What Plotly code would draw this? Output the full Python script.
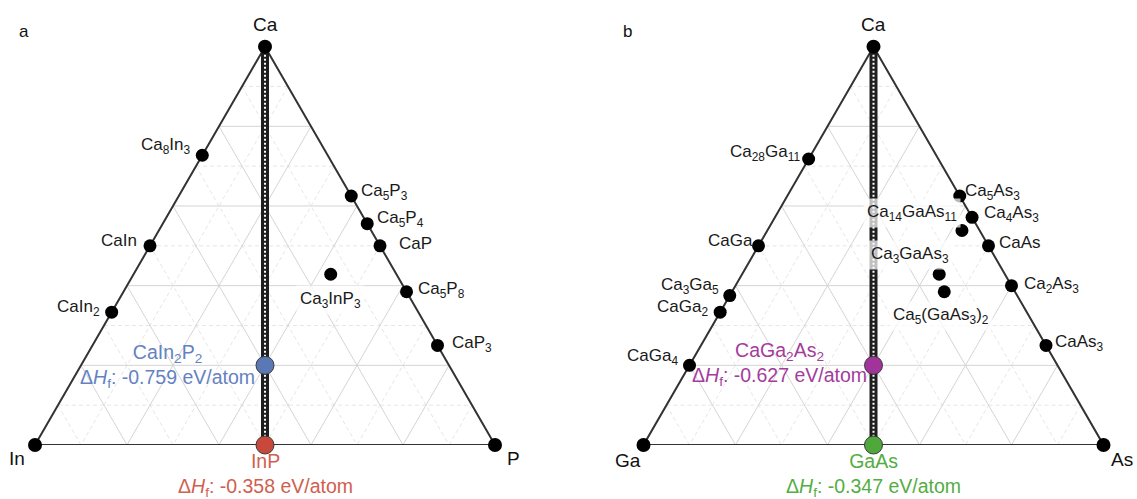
import numpy as np
import plotly.graph_objects as go

SQ3 = np.sqrt(3.0)
W, H = 1137, 499
FONT = "Liberation Sans, Arial, sans-serif"

# ---------------- data: panel a (Ca-In-P) ----------------
A_VERTS = ["Ca", "In", "P"]
A_NAMES = ["Ca<sub>8</sub>In<sub>3</sub>", "CaIn", "CaIn<sub>2</sub>",
           "Ca<sub>5</sub>P<sub>3</sub>", "Ca<sub>5</sub>P<sub>4</sub>", "CaP",
           "Ca<sub>5</sub>P<sub>8</sub>", "CaP<sub>3</sub>", "Ca<sub>3</sub>InP<sub>3</sub>"]
A_CA = [8, 1, 1, 5, 5, 1, 5, 1, 3]
A_X = [3, 1, 2, 0, 0, 0, 0, 0, 1]     # In
A_Y = [0, 0, 0, 3, 4, 1, 8, 3, 3]     # P
A_HI_NAMES = ["CaIn<sub>2</sub>P<sub>2</sub>", "InP"]
A_HI_CA = [1, 0]
A_HI_X = [2, 1]
A_HI_Y = [2, 1]
A_HI_DH = [-0.759, -0.358]

# ---------------- data: panel b (Ca-Ga-As) ----------------
B_VERTS = ["Ca", "Ga", "As"]
B_NAMES = ["Ca<sub>28</sub>Ga<sub>11</sub>", "CaGa", "Ca<sub>3</sub>Ga<sub>5</sub>",
           "CaGa<sub>2</sub>", "CaGa<sub>4</sub>",
           "Ca<sub>5</sub>As<sub>3</sub>", "Ca<sub>4</sub>As<sub>3</sub>", "CaAs",
           "Ca<sub>2</sub>As<sub>3</sub>", "CaAs<sub>3</sub>",
           "Ca<sub>14</sub>GaAs<sub>11</sub>", "Ca<sub>3</sub>GaAs<sub>3</sub>",
           "Ca<sub>5</sub>(GaAs<sub>3</sub>)<sub>2</sub>"]
B_CA = [28, 1, 3, 1, 1, 5, 4, 1, 2, 1, 14, 3, 5]
B_X = [11, 1, 5, 2, 4, 0, 0, 0, 0, 0, 1, 1, 2]   # Ga
B_Y = [0, 0, 0, 0, 0, 3, 3, 1, 3, 3, 11, 3, 6]   # As
B_HI_NAMES = ["CaGa<sub>2</sub>As<sub>2</sub>", "GaAs"]
B_HI_CA = [1, 0]
B_HI_X = [2, 1]
B_HI_Y = [2, 1]
B_HI_DH = [-0.627, -0.347]

# ---------------- label placement (pixel offsets from the point) ----------------
A_VERT_OFF = [(0, -22), (-18, 14), (18, 14)]
B_VERT_OFF = [(0, -22), (-16, 16), (18, 15)]
A_LBL_OFF = [(-36, -9), (-31, -5), (-33, -4), (33, -4), (33, -5), (35, -2),
             (35, -2), (34, -1), (0, 26)]
A_LBL_BOX = [False] * 8 + [True]
B_LBL_OFF = [(-44, -6), (-28, -5), (-40, -10), (-38, -4), (-37, -8),
             (33, -4), (39, -3), (31, -3), (40, -1), (33, -2),
             (-50, -17), (-29, -19), (-3, 24)]
B_LBL_BOX = [False] * 10 + [True, True, True]
A_HI_OFF = [(-98, 1), (0, 30)]
B_HI_OFF = [(-94, -1), (0, 30)]
A_HI_COLORS = ["#5b78b6", "#c8493b"]
A_HI_TEXT = ["#6482c2", "#d0604f"]
B_HI_COLORS = ["#a2339a", "#4ea83a"]
B_HI_TEXT = ["#a43c9c", "#54ad43"]

SIDE = 460.0


def to_xy(ca, b, c):
    """ternary (top=Ca, left=b, right=c) -> cartesian in side-length units"""
    ca, b, c = (np.asarray(v, dtype=float) for v in (ca, b, c))
    s = ca + b + c
    a_, c_ = ca / s, c / s
    return c_ + a_ / 2, a_ * SQ3 / 2


def add_panel(fig, k, verts, vert_off, names, ca, xb, yc, lbl_off, lbl_box,
              hi_names, hi_ca, hi_x, hi_y, hi_dh, hi_off, hi_col, hi_txt):
    xr, yr = ("x", "y") if k == 1 else ("x2", "y2")
    kw = dict(xaxis=xr, yaxis=yr, hoverinfo="skip")
    # grid lines
    for dashed in (True, False):
        gx, gy = [], []
        for i in range(1, 10):
            if (i % 2 == 1) != dashed:
                continue
            t = i / 10
            for p, q in [((t, 1 - t, 0), (t, 0, 1 - t)),
                         ((1 - t, t, 0), (0, t, 1 - t)),
                         ((1 - t, 0, t), (0, 1 - t, t))]:
                x0, y0 = to_xy(*p)
                x1, y1 = to_xy(*q)
                gx += [float(x0), float(x1), None]
                gy += [float(y0), float(y1), None]
        fig.add_trace(go.Scatter(
            x=gx, y=gy, mode="lines", **kw,
            line=dict(color="#e6e6e6" if dashed else "#d4d4d4", width=1,
                      dash="4px,3px" if dashed else "solid")))
    # triangle edges
    ex, ey = to_xy([1, 0, 0, 1], [0, 1, 0, 0], [0, 0, 1, 0])
    fig.add_trace(go.Scatter(x=ex, y=ey, mode="lines", **kw,
                             line=dict(color="#333333", width=2)))
    # thick join line Ca - (1:1 compound)
    jx, jy = to_xy([1, 0], [0, 1], [0, 1])
    fig.add_trace(go.Scatter(x=jx, y=jy, mode="lines", **kw,
                             line=dict(color="#1e1e1e", width=8)))
    fig.add_trace(go.Scatter(x=jx, y=jy, mode="lines", **kw,
                             line=dict(color="#ffffff", width=2, dash="2px,2px")))
    # vertices
    vx, vy = to_xy([1, 0, 0], [0, 1, 0], [0, 0, 1])
    fig.add_trace(go.Scatter(x=vx, y=vy, mode="markers", cliponaxis=False, **kw,
                             marker=dict(color="black", size=14)))
    for i in range(3):
        fig.add_annotation(x=vx[i], y=vy[i], xref=xr, yref=yr, text=verts[i],
                           showarrow=False, xanchor="center", yanchor="middle",
                           xshift=vert_off[i][0], yshift=-vert_off[i][1],
                           font=dict(family=FONT, size=19, color="#111"))
    # compounds
    px, py = to_xy(ca, xb, yc)
    fig.add_trace(go.Scatter(x=px, y=py, mode="markers", cliponaxis=False, **kw,
                             marker=dict(color="black", size=13)))
    for i in range(len(ca)):
        box = dict(bgcolor="rgba(255,255,255,0.72)", borderpad=3) if lbl_box[i] else {}
        fig.add_annotation(x=px[i], y=py[i], xref=xr, yref=yr, text=names[i],
                           showarrow=False, xanchor="center", yanchor="middle",
                           xshift=lbl_off[i][0], yshift=-lbl_off[i][1],
                           font=dict(family=FONT, size=17, color="#1a1a1a"), **box)
    # highlighted compounds
    hx, hy = to_xy(hi_ca, hi_x, hi_y)
    for i in range(len(hi_ca)):
        fig.add_trace(go.Scatter(
            x=[hx[i]], y=[hy[i]], mode="markers", cliponaxis=False, **kw,
            marker=dict(color=hi_col[i], size=18, line=dict(color="#3a3a3a", width=1))))
        txt = f"{hi_names[i]}<br>Δ<i>H</i><sub>f</sub>: {hi_dh[i]:.3f} eV/atom"
        fig.add_annotation(x=hx[i], y=hy[i], xref=xr, yref=yr, text=txt,
                           showarrow=False, xanchor="center", yanchor="middle",
                           align="center", xshift=hi_off[i][0], yshift=-hi_off[i][1],
                           font=dict(family=FONT, size=19.5, color=hi_txt[i]))


fig = go.Figure()
add_panel(fig, 1, A_VERTS, A_VERT_OFF, A_NAMES, A_CA, A_X, A_Y, A_LBL_OFF, A_LBL_BOX,
          A_HI_NAMES, A_HI_CA, A_HI_X, A_HI_Y, A_HI_DH, A_HI_OFF, A_HI_COLORS, A_HI_TEXT)
add_panel(fig, 2, B_VERTS, B_VERT_OFF, B_NAMES, B_CA, B_X, B_Y, B_LBL_OFF, B_LBL_BOX,
          B_HI_NAMES, B_HI_CA, B_HI_X, B_HI_Y, B_HI_DH, B_HI_OFF, B_HI_COLORS, B_HI_TEXT)

tri_h = SIDE * SQ3 / 2
ybot = (499 - 445) / H
ytop = ybot + tri_h / H
ax_common = dict(visible=False, fixedrange=True)
fig.update_layout(
    width=W, height=H, autosize=False, showlegend=False,
    margin=dict(l=0, r=0, t=0, b=0),
    paper_bgcolor="white", plot_bgcolor="white",
    xaxis=dict(domain=[35 / W, 495 / W], range=[0, 1], **ax_common),
    yaxis=dict(domain=[ybot, ytop], range=[0, SQ3 / 2], **ax_common),
    xaxis2=dict(domain=[643.5 / W, 1103.5 / W], range=[0, 1], **ax_common),
    yaxis2=dict(domain=[ybot, ytop], range=[0, SQ3 / 2], **ax_common),
)
fig.add_annotation(text="a", x=17 / W, y=1 - 20 / H, xref="paper", yref="paper",
                   showarrow=False, font=dict(family=FONT, size=17, color="#111"))
fig.add_annotation(text="b", x=627 / W, y=1 - 20 / H, xref="paper", yref="paper",
                   showarrow=False, font=dict(family=FONT, size=17, color="#111"))

fig.write_html("out.html")
